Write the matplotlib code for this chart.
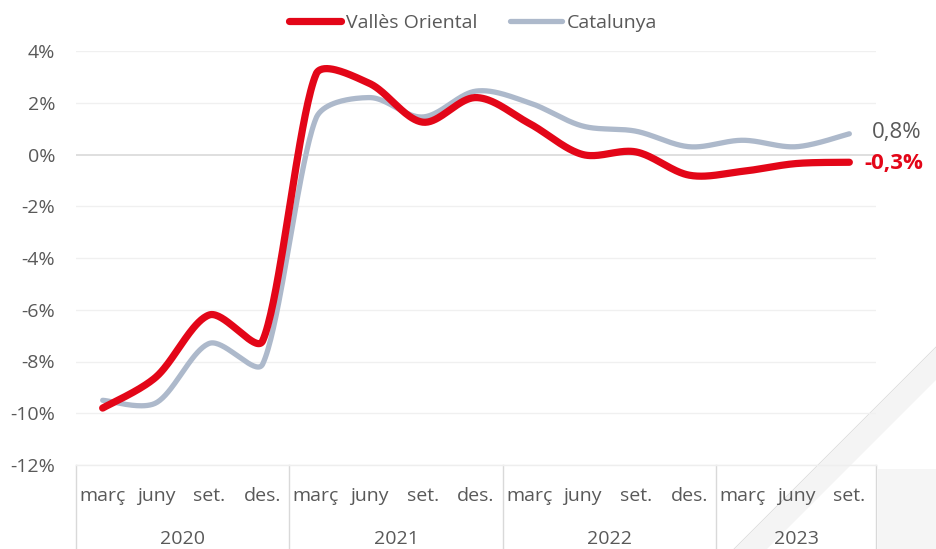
import numpy as np
import matplotlib
matplotlib.use("Agg")
import matplotlib.pyplot as plt
from matplotlib.lines import Line2D
from matplotlib.patches import Polygon, Rectangle
import matplotlib.transforms as mtransforms

plt.rcParams['font.family'] = ['Open Sans', 'DejaVu Sans']

quarters = ["març", "juny", "set.", "des.",
            "març", "juny", "set.", "des.",
            "març", "juny", "set.", "des.",
            "març", "juny", "set."]
years = ["2020", "2021", "2022", "2023"]
year_counts = [4, 4, 4, 3]
valles = [-9.8, -8.6, -6.2, -7.2, 3.1, 2.75, 1.25, 2.2, 1.2, 0.0, 0.1, -0.8, -0.65, -0.35, -0.3]
catalunya = [-9.5, -9.6, -7.3, -8.1, 1.4, 2.2, 1.45, 2.45, 2.0, 1.1, 0.9, 0.3, 0.55, 0.3, 0.8]
series_names = ["Vallès Oriental", "Catalunya"]
end_labels = ["-0,3%", "0,8%"]

RED = "#E30618"
GREY = "#ADB9CB"
TXT = "#595959"

W, H = 936, 549
PX_X = 800 / 15.0        # pixels per category
PX_Y = (465 - 51) / 16.0  # pixels per percentage point


def smooth(xs, ys, n=40):
    pts = np.column_stack([np.asarray(xs, float) * PX_X, np.asarray(ys, float) * PX_Y])
    m = len(pts)
    d = np.linalg.norm(np.diff(pts, axis=0), axis=1)
    out = []
    for i in range(m - 1):
        p0 = pts[max(i - 1, 0)]
        p1 = pts[i]
        p2 = pts[i + 1]
        p3 = pts[min(i + 2, m - 1)]
        d01 = d[i - 1] if i > 0 else d[i]
        d12 = d[i]
        d23 = d[i + 1] if i + 1 < m - 1 else d[i]
        f1 = min(1.0, 2 * d12 / (d01 + d12))
        f2 = min(1.0, 2 * d12 / (d12 + d23))
        c1 = p1 + (p2 - p0) / 6.0 * f1
        c2 = p2 - (p3 - p1) / 6.0 * f2
        t = np.linspace(0, 1, n, endpoint=(i == m - 2))[:, None]
        b = ((1 - t) ** 3) * p1 + 3 * ((1 - t) ** 2) * t * c1 + 3 * (1 - t) * t ** 2 * c2 + t ** 3 * p2
        out.append(b)
    out = np.vstack(out)
    return out[:, 0] / PX_X, out[:, 1] / PX_Y


def fx(px):
    return px / W


def fy(py):
    return 1 - py / H


fig = plt.figure(figsize=(W / 100, H / 100), dpi=100)

# background decoration (bottom right)
fig.patches.append(Rectangle((fx(878), 0), fx(W) - fx(878), fy(469),
                             transform=fig.transFigure, facecolor="#f5f5f5", edgecolor="none", zorder=-2))
fig.patches.append(Polygon([(fx(936), fy(348)), (fx(936), fy(380)),
                            (fx(767), fy(549)), (fx(735), fy(549))],
                           closed=True, transform=fig.transFigure, facecolor="#f4f4f4",
                           edgecolor="none", zorder=-2))
fig.lines.append(Line2D([fx(936), fx(734)], [fy(347), fy(549)],
                        transform=fig.transFigure, color="#dcdcdc", lw=0.6, zorder=-1))

ax = fig.add_axes([fx(76), fy(465), 800 / W, (465 - 51) / H])
ax.set_facecolor("none")
n = len(quarters)
x = np.arange(n)
ax.set_xlim(-0.5, n - 0.5)
ax.set_ylim(-12, 4)

FS = 14
yt = np.arange(-12, 5, 2)
ax.set_yticks(yt)
ax.set_yticklabels([f"{v}%" for v in yt], fontsize=FS, color=TXT)
for v in yt:
    ax.axhline(v, color="#d9d9d9" if v == 0 else "#f0f0f0", lw=1.2 if v == 0 else 1.0, zorder=1)
ax.tick_params(axis="y", length=0, pad=15)
ax.tick_params(axis="x", length=0)
for s in ax.spines.values():
    s.set_visible(False)

ax.set_xticks(x)
ax.set_xticklabels(quarters, fontsize=FS, color=TXT)
ax.tick_params(axis="x", pad=16)

trans = mtransforms.blended_transform_factory(ax.transData, ax.transAxes)
bounds = np.concatenate([[0], np.cumsum(year_counts)]) - 0.5
bot = -(549 - 465) / (465 - 51)
for b in bounds:
    ax.add_line(Line2D([b, b], [0, bot], transform=trans, color="#d9d9d9", lw=1.0, clip_on=False))
ax.add_line(Line2D([bounds[0], bounds[-1]], [0, 0], transform=trans, color="#eeeeee", lw=1.0, clip_on=False))
for i, yname in enumerate(years):
    cx = (bounds[i] + bounds[i + 1]) / 2
    ax.text(cx, -(539 - 465) / (465 - 51), yname, transform=trans, ha="center", va="center",
            fontsize=FS, color=TXT)

sx, sy = smooth(x, catalunya)
ax.plot(sx, sy, color=GREY, lw=3.8, solid_capstyle="round", zorder=3)
sx, sy = smooth(x, valles)
ax.plot(sx, sy, color=RED, lw=5.2, solid_capstyle="round", zorder=4)

ax.annotate(end_labels[1], (x[-1], catalunya[-1]), xytext=(16, 1), textcoords="offset points",
            ha="left", va="center", fontsize=16, color=TXT, annotation_clip=False)
ax.annotate(end_labels[0], (x[-1], valles[-1]), xytext=(11, -1), textcoords="offset points",
            ha="left", va="center", fontsize=16, color=RED, fontweight="bold", annotation_clip=False)

handles = [Line2D([], [], color=RED, lw=5.2, solid_capstyle="round"),
           Line2D([], [], color=GREY, lw=3.8, solid_capstyle="round")]
leg = fig.legend(handles, series_names, loc="center", bbox_to_anchor=(fx(473), fy(23)), ncol=2,
                 frameon=False, handlelength=2.7, handletextpad=0.25, columnspacing=1.65,
                 prop={"size": FS})
for t in leg.get_texts():
    t.set_color(TXT)

fig.savefig("out.png", dpi=100)
